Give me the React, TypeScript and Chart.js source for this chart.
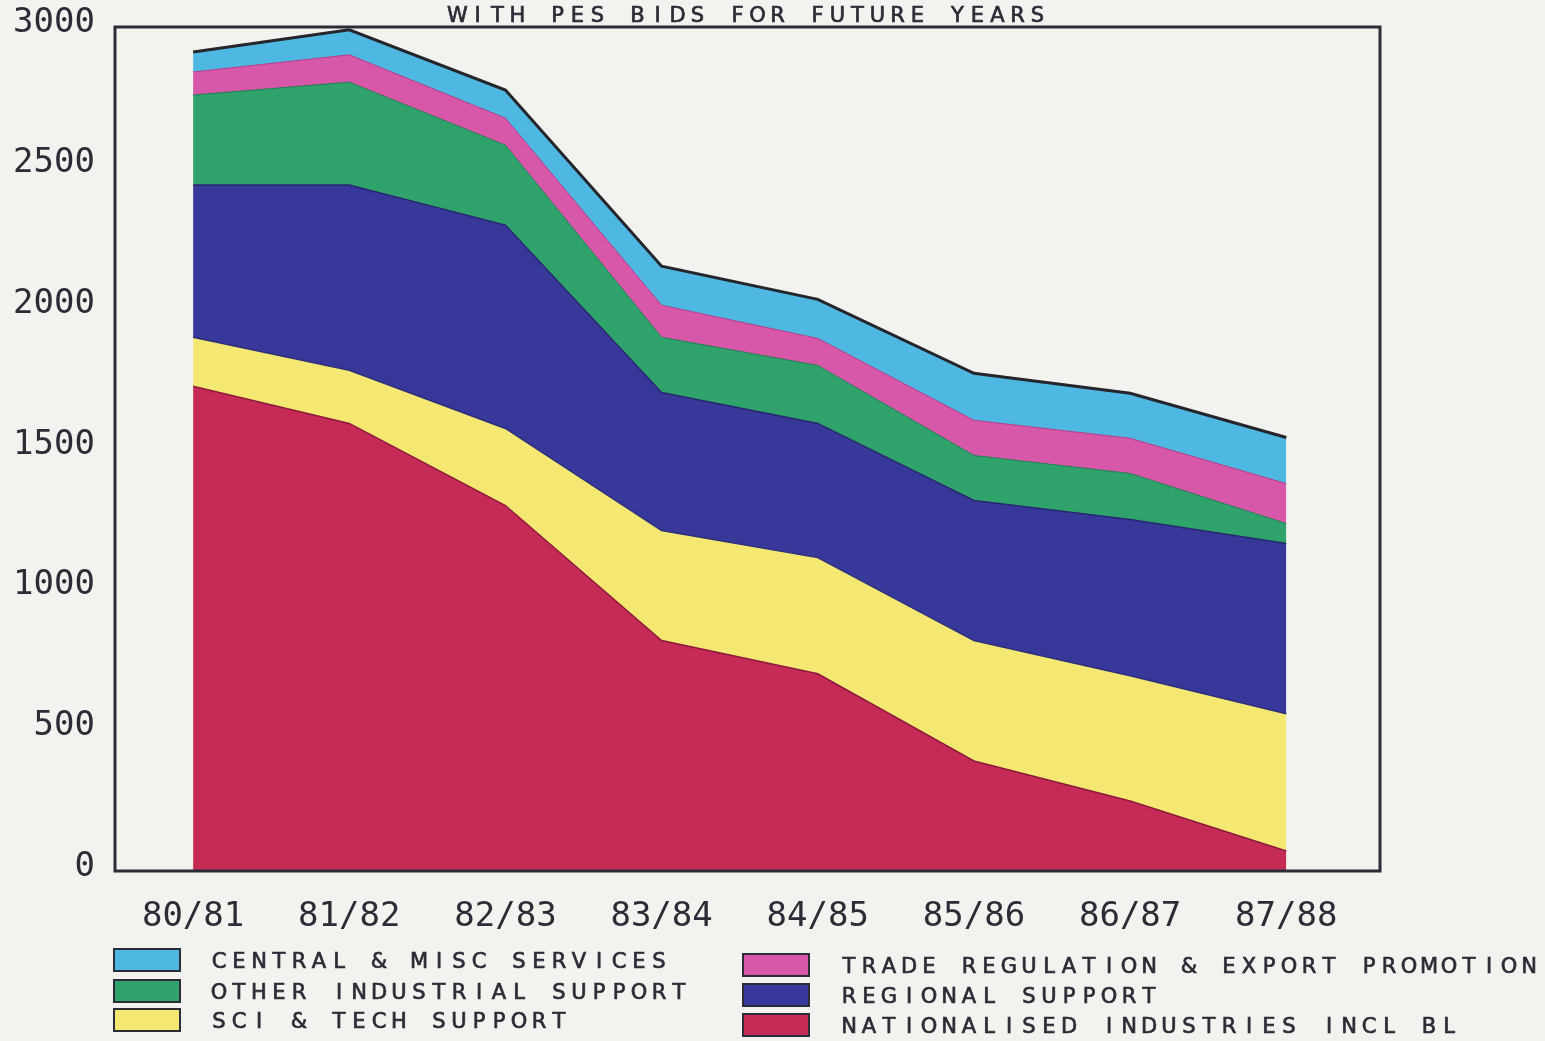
import React, { useEffect, useRef } from "react";
import { Chart, registerables } from "chart.js";

Chart.register(...registerables);

const categories = ["80/81", "81/82", "82/83", "83/84", "84/85", "85/86", "86/87", "87/88"];
const nationalised = [1723, 1591, 1299, 819, 701, 391, 249, 71];
const sciTech = [174, 189, 274, 391, 413, 428, 445, 488];
const regional = [541, 658, 723, 491, 477, 498, 555, 605];
const otherIndustrial = [320, 366, 284, 196, 206, 160, 164, 71];
const tradeRegulation = [82, 97, 96, 114, 96, 125, 125, 142];
const centralMisc = [71, 89, 100, 139, 139, 167, 160, 164];

const titleText = "WITH PES BIDS FOR FUTURE YEARS";
const legendLeft = ["CENTRAL & MISC SERVICES", "OTHER INDUSTRIAL SUPPORT", "SCI & TECH SUPPORT"];
const legendRight = ["TRADE REGULATION & EXPORT PROMOTION", "REGIONAL SUPPORT", "NATIONALISED INDUSTRIES INCL BL"];

const FONT = '"DejaVu Sans Mono", "Liberation Mono", monospace';
const TEXT_FONT = '"DejaVu Sans", "Liberation Sans", sans-serif';
const INK = "#2a2c37";
const BG = "#f2f2ee";

// draws each character centred in a fixed-width cell (plotter-style spacing)
function spacedText(ctx: CanvasRenderingContext2D, text: string, x: number, y: number, adv: number, cell: number) {
  ctx.textAlign = "center";
  for (let i = 0; i < text.length; i++) {
    const cx = x + i * adv + cell / 2;
    ctx.fillText(text[i], cx, y);
    ctx.strokeText(text[i], cx, y);
  }
}

const bgPlugin = {
  id: "bg",
  beforeDraw(chart: any) {
    const { ctx, width, height } = chart;
    ctx.save();
    ctx.fillStyle = BG;
    ctx.fillRect(0, 0, width, height);
    ctx.restore();
  },
};

const framePlugin = {
  id: "frame",
  afterDatasetsDraw(chart: any) {
    const { ctx, chartArea } = chart;
    ctx.save();
    ctx.strokeStyle = INK;
    ctx.lineWidth = 3;
    ctx.strokeRect(chartArea.left, chartArea.top, chartArea.right - chartArea.left, chartArea.bottom - chartArea.top);
    ctx.restore();
  },
};

const textPlugin = {
  id: "titleLegend",
  afterDraw(chart: any) {
    const { ctx, chartArea } = chart;
    const adv = 20;
    const cell = 14;
    ctx.save();
    ctx.font = `21px ${TEXT_FONT}`;
    ctx.textBaseline = "alphabetic";
    const tw = (titleText.length - 1) * adv + cell;
    const cx = (chartArea.left + chartArea.right) / 2;
    ctx.fillStyle = INK;
    ctx.strokeStyle = INK;
    ctx.lineWidth = 0.7;
    spacedText(ctx, titleText, cx - tw / 2, 22, adv, cell);

    const find = (label: string) => chart.data.datasets.find((d: any) => d.label === label);
    const drawCol = (labels: string[], boxX: number, textX: number, rowY: number[]) => {
      labels.forEach((lab, i) => {
        const ds = find(lab);
        const cy = rowY[i];
        ctx.fillStyle = ds ? ds.backgroundColor : "#999";
        ctx.fillRect(boxX, cy - 11, 66, 22);
        ctx.strokeStyle = INK;
        ctx.lineWidth = 2;
        ctx.strokeRect(boxX, cy - 11, 66, 22);
        ctx.fillStyle = INK;
        ctx.lineWidth = 0.7;
        spacedText(ctx, lab, textX, cy + 7.5, adv, cell);
      });
    };
    drawCol(legendLeft, 114, 212, [960, 991, 1020]);
    drawCol(legendRight, 743, 842, [965, 995, 1025]);
    ctx.restore();
  },
};

const toPts = (arr: number[]) => arr.map((v, i) => ({ x: i, y: v }));

export default function App() {
  const ref = useRef<HTMLCanvasElement | null>(null);

  useEffect(() => {
    document.body.style.margin = "0";
    document.body.style.background = BG;
    const canvas = ref.current;
    if (!canvas) return;
    const mk = (label: string, data: number[], bg: string, border: string, bw: number, first: boolean) => ({
      label,
      data: toPts(data),
      backgroundColor: bg,
      borderColor: border,
      borderWidth: bw,
      fill: first ? "origin" : "-1",
      pointRadius: 0,
      tension: 0,
    });
    const chart = new Chart(canvas, {
      type: "line",
      data: {
        datasets: [
          mk("NATIONALISED INDUSTRIES INCL BL", nationalised, "#c62a57", "#8c1a3b", 1.5, true),
          mk("SCI & TECH SUPPORT", sciTech, "#f4e872", "#2c2f7a", 1.5, false),
          mk("REGIONAL SUPPORT", regional, "#38389a", "#26286f", 1.5, false),
          mk("OTHER INDUSTRIAL SUPPORT", otherIndustrial, "#30a36c", "#1f7c52", 1, false),
          mk("TRADE REGULATION & EXPORT PROMOTION", tradeRegulation, "#d757a8", "#b03c88", 1, false),
          mk("CENTRAL & MISC SERVICES", centralMisc, "#4eb8e2", "#25252c", 3, false),
        ],
      },
      options: {
        responsive: false,
        animation: false,
        layout: { padding: { left: 0, top: 27, right: 165, bottom: 0 } },
        plugins: {
          legend: { display: false },
          title: { display: false },
          tooltip: { enabled: false },
        },
        scales: {
          x: {
            type: "linear",
            min: -0.5,
            max: 7.6,
            grid: { display: false, drawTicks: false },
            border: { display: false },
            ticks: {
              stepSize: 1,
              includeBounds: false,
              autoSkip: false,
              maxRotation: 0,
              padding: 26,
              color: INK,
              font: { family: FONT, size: 34 },
              callback: (v: any) => (Number.isInteger(v) && categories[v] !== undefined ? categories[v] : ""),
            },
            afterFit: (s: any) => {
              s.height = 1041 - 871;
              s.paddingLeft = 0;
              s.paddingRight = 0;
            },
          },
          y: {
            stacked: true,
            min: 0,
            max: 3000,
            grid: { display: false, drawTicks: false },
            border: { display: false },
            ticks: {
              stepSize: 500,
              padding: 20,
              labelOffset: -4,
              color: INK,
              font: { family: FONT, size: 34 },
              callback: (v: any) => String(v),
            },
            afterFit: (s: any) => {
              s.width = 115;
              s.paddingTop = 0;
              s.paddingBottom = 0;
            },
          },
        },
      },
      plugins: [bgPlugin, framePlugin, textPlugin],
    } as any);
    return () => chart.destroy();
  }, []);

  return (
    <div style={{ position: "absolute", left: 0, top: 0, width: 1545, height: 1041, background: BG }}>
      <canvas ref={ref} width={1545} height={1041} style={{ display: "block" }} />
    </div>
  );
}
